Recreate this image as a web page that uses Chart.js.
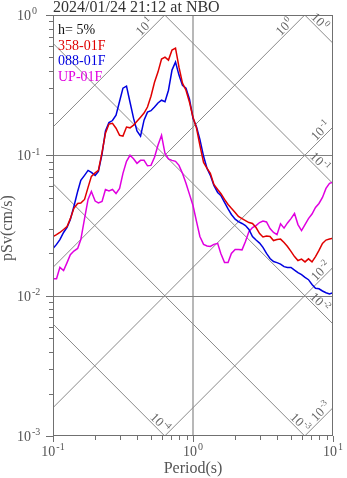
<!DOCTYPE html>
<html>
<head>
<meta charset="utf-8">
<script src="https://cdn.jsdelivr.net/npm/chart.js@4.4.1/dist/chart.umd.min.js"></script>
<style>
  body { margin: 0; background: #fff; }
  #wrap { width: 347px; height: 478px; }
</style>
</head>
<body>
<div id="wrap"><canvas id="psvChart" width="347" height="478"></canvas></div>
<script>
// periods (s), 40 steps per decade / 2
const periods = [
  0.1, 0.106, 0.112, 0.119, 0.126, 0.133, 0.141, 0.15, 0.158, 0.168,
  0.178, 0.188, 0.2, 0.211, 0.224, 0.237, 0.251, 0.266, 0.282, 0.299,
  0.316, 0.335, 0.355, 0.376, 0.398, 0.422, 0.447, 0.473, 0.501, 0.531,
  0.562, 0.596, 0.631, 0.668, 0.708, 0.75, 0.794, 0.841, 0.891, 0.944,
  1.0, 1.06, 1.12, 1.19, 1.26, 1.33, 1.41, 1.5, 1.58, 1.68,
  1.78, 1.88, 2.0, 2.11, 2.24, 2.37, 2.51, 2.66, 2.82, 2.99,
  3.16, 3.35, 3.55, 3.76, 3.98, 4.22, 4.47, 4.73, 5.01, 5.31,
  5.62, 5.96, 6.31, 6.68, 7.08, 7.5, 7.94, 8.41, 8.91, 9.44, 10
];

// pSv (cm/s)
const psv358 = [
  0.0264, 0.0272, 0.0282, 0.0296, 0.0311, 0.0354, 0.0419, 0.0454, 0.0458, 0.0485,
  0.0591, 0.0708, 0.075, 0.0781, 0.105, 0.144, 0.167, 0.169, 0.156, 0.139,
  0.137, 0.159, 0.157, 0.164, 0.175, 0.187, 0.2, 0.221, 0.264, 0.332,
  0.392, 0.485, 0.501, 0.477, 0.562, 0.581, 0.425, 0.327, 0.291, 0.239,
  0.187, 0.156, 0.118, 0.0891, 0.0807, 0.0744, 0.0621, 0.0571, 0.0535, 0.0485,
  0.0446, 0.0419, 0.0392, 0.0367, 0.0354, 0.0343, 0.0332, 0.0327, 0.0306, 0.0277,
  0.0262, 0.0266, 0.0264, 0.0247, 0.0251, 0.0253, 0.0239, 0.0224, 0.0207, 0.019,
  0.0178, 0.0182, 0.0174, 0.0183, 0.0174, 0.019, 0.021, 0.0236, 0.0249, 0.0253, 0.0257
];
const psv088 = [
  0.0217, 0.0232, 0.0251, 0.0282, 0.0306, 0.0349, 0.0432, 0.0553, 0.0663, 0.072,
  0.0781, 0.0756, 0.072, 0.0768, 0.102, 0.149, 0.171, 0.177, 0.193, 0.243,
  0.301, 0.311, 0.239, 0.184, 0.149, 0.137, 0.178, 0.203, 0.208, 0.221,
  0.236, 0.247, 0.241, 0.291, 0.405, 0.462, 0.373, 0.316, 0.301, 0.251,
  0.184, 0.159, 0.13, 0.0984, 0.0807, 0.072, 0.0611, 0.0544, 0.0518, 0.0462,
  0.0415, 0.0379, 0.0351, 0.0337, 0.0327, 0.0316, 0.0296, 0.0264, 0.0249, 0.0237,
  0.0221, 0.02, 0.0184, 0.0175, 0.0172, 0.0168, 0.0161, 0.0159, 0.0159, 0.0152,
  0.0146, 0.0141, 0.0135, 0.013, 0.012, 0.0113, 0.0112, 0.0108, 0.0105, 0.0103, 0.0105
];
const psvUp = [
  0.0132, 0.0132, 0.0159, 0.0151, 0.0172, 0.0196, 0.0208, 0.0217, 0.0251, 0.0354,
  0.0485, 0.0553, 0.0472, 0.0458, 0.0469, 0.0571, 0.0558, 0.0571, 0.0535, 0.0581,
  0.0744, 0.0906, 0.1, 0.0944, 0.0877, 0.0921, 0.0921, 0.0842, 0.0848, 0.0968,
  0.118, 0.139, 0.103, 0.0944, 0.0921, 0.0906, 0.0848, 0.0744, 0.0632, 0.0527,
  0.0439, 0.0337, 0.0264, 0.0232, 0.0226, 0.0224, 0.0232, 0.0236, 0.02, 0.0172,
  0.0172, 0.02, 0.0213, 0.0213, 0.0212, 0.0243, 0.0286, 0.0306, 0.0316, 0.0332,
  0.034, 0.0335, 0.0301, 0.0282, 0.0272, 0.0325, 0.0303, 0.033, 0.0354, 0.0385,
  0.0321, 0.0291, 0.0321, 0.0354, 0.0382, 0.0425, 0.0454, 0.0501, 0.0581, 0.0632, 0.0642
];

const seriesNames = ["358-01F", "088-01F", "UP-01F"];
const seriesColors = ["#e00000", "#0000e0", "#e000e0"];
const titleText = "2024/01/24 21:12 at NBO";
const dampText = "h= 5%";
const xTickExps = [-1, 0, 1];
const yTickExps = [-3, -2, -1, 0];
const accExps = [1, 0, -1, -2, -3];   // cm/s^2 (lines going up-right)
const dispExps = [0, -1, -2, -3, -4]; // cm (lines going down-right)

const serif = "'Liberation Serif', 'Times New Roman', serif";

function drawPow(ctx, exp, x, y, size, align) {
  const supSize = Math.round(size * 0.72);
  ctx.font = size + "px " + serif;
  const w1 = ctx.measureText("10").width;
  ctx.font = supSize + "px " + serif;
  const w2 = ctx.measureText(String(exp)).width;
  const total = w1 + 1 + w2;
  let left = x;
  if (align === "center") left = x - total / 2;
  if (align === "right") left = x - total;
  ctx.textAlign = "left";
  ctx.font = size + "px " + serif;
  ctx.fillText("10", left, y);
  ctx.font = supSize + "px " + serif;
  ctx.fillText(String(exp), left + w1 + 1, y - size * 0.4);
}

const tripartite = {
  id: "tripartite",
  beforeDatasetsDraw(chart) {
    const ctx = chart.ctx;
    const area = chart.chartArea;
    const xs = chart.scales.x, ys = chart.scales.y;
    ctx.save();
    ctx.beginPath();
    ctx.rect(area.left, area.top, area.right - area.left, area.bottom - area.top);
    ctx.clip();

    // grid lines
    ctx.strokeStyle = "#a0a0a0";
    ctx.lineWidth = 1.5;
    ctx.beginPath();
    ctx.moveTo(xs.getPixelForValue(1), area.top);
    ctx.lineTo(xs.getPixelForValue(1), area.bottom);
    ctx.stroke();
    ctx.strokeStyle = "#808080";
    ctx.lineWidth = 1;
    [0.1, 0.01].forEach((v) => {
      const y = Math.round(ys.getPixelForValue(v)) + 0.5;
      ctx.beginPath();
      ctx.moveTo(area.left, y);
      ctx.lineTo(area.right, y);
      ctx.stroke();
    });

    // constant acceleration / displacement lines
    ctx.strokeStyle = "#8a8a8a";
    ctx.lineWidth = 1;
    accExps.forEach((e) => {
      const a = Math.pow(10, e);
      const sv = (t) => (a * t) / (2 * Math.PI);
      ctx.beginPath();
      ctx.moveTo(xs.getPixelForValue(0.1), ys.getPixelForValue(sv(0.1)));
      ctx.lineTo(xs.getPixelForValue(10), ys.getPixelForValue(sv(10)));
      ctx.stroke();
    });
    dispExps.forEach((e) => {
      const d = Math.pow(10, e);
      const sv = (t) => (2 * Math.PI * d) / t;
      ctx.beginPath();
      ctx.moveTo(xs.getPixelForValue(0.1), ys.getPixelForValue(sv(0.1)));
      ctx.lineTo(xs.getPixelForValue(10), ys.getPixelForValue(sv(10)));
      ctx.stroke();
    });
    ctx.restore();
  },
  afterDatasetsDraw(chart) {
    const ctx = chart.ctx;
    const area = chart.chartArea;
    const xs = chart.scales.x, ys = chart.scales.y;
    ctx.save();

    // frame
    ctx.strokeStyle = "#707070";
    ctx.lineWidth = 1;
    ctx.strokeRect(area.left + 0.5, area.top + 0.5, area.right - area.left - 1, area.bottom - area.top - 1);

    // tick marks
    ctx.beginPath();
    for (let k = -1; k <= 1; k++) {
      for (let m = 1; m <= 9; m++) {
        const t = m * Math.pow(10, k);
        if (t > 10.0001) break;
        const x = Math.round(xs.getPixelForValue(t)) + 0.5;
        ctx.moveTo(x, area.bottom);
        ctx.lineTo(x, area.bottom + (m === 1 ? 6 : 4));
      }
    }
    for (let k = -3; k <= 0; k++) {
      for (let m = 1; m <= 9; m++) {
        const v = m * Math.pow(10, k);
        if (v > 1.0001) break;
        const y = Math.round(ys.getPixelForValue(v)) + 0.5;
        ctx.moveTo(area.left, y);
        ctx.lineTo(area.left - (m === 1 ? 7 : 4), y);
      }
    }
    ctx.stroke();

    // tick labels
    ctx.fillStyle = "#555";
    ctx.textBaseline = "alphabetic";
    xTickExps.forEach((e) => {
      drawPow(ctx, e, xs.getPixelForValue(Math.pow(10, e)), area.bottom + 20, 14, "center");
    });
    yTickExps.forEach((e) => {
      drawPow(ctx, e, 17, ys.getPixelForValue(Math.pow(10, e)) + 5, 14, "left");
    });

    // diagonal labels
    ctx.fillStyle = "#666";
    const labelAt = (sv, exitT, back, exp, sizeSign) => {
      const ex = xs.getPixelForValue(exitT);
      const lx = ex - back;
      const lt = xs.getValueForPixel(lx);
      const ly = ys.getPixelForValue(sv(lt));
      const ang = Math.atan2(
        ys.getPixelForValue(sv(10)) - ys.getPixelForValue(sv(0.1)),
        xs.getPixelForValue(10) - xs.getPixelForValue(0.1)
      );
      ctx.save();
      ctx.translate(lx, ly);
      ctx.rotate(ang);
      drawPow(ctx, exp, 0, -2, 13, "center");
      ctx.restore();
    };
    accExps.forEach((e) => {
      const a = Math.pow(10, e);
      const sv = (t) => (a * t) / (2 * Math.PI);
      const topT = (2 * Math.PI) / a;
      const exitT = Math.min(10, topT);
      labelAt(sv, exitT, topT < 10 ? 16 : 8, e);
    });
    dispExps.forEach((e) => {
      const d = Math.pow(10, e);
      const sv = (t) => (2 * Math.PI * d) / t;
      const botT = (2 * Math.PI * d) / 0.001;
      const exitT = Math.min(10, botT);
      labelAt(sv, exitT, botT < 10 ? 9 : 17.5, e);
    });

    // legend text
    ctx.textAlign = "left";
    ctx.font = "14px " + serif;
    ctx.fillStyle = "#111";
    ctx.fillText(dampText, 58, 34);
    seriesNames.forEach((name, i) => {
      ctx.fillStyle = seriesColors[i];
      ctx.fillText(name, 58, 49.5 + i * 15.5);
    });

    // title and axis titles
    ctx.fillStyle = "#333";
    ctx.font = "16px " + serif;
    ctx.fillText(titleText, area.left, 12);
    ctx.fillStyle = "#555";
    ctx.textAlign = "center";
    ctx.fillText("Period(s)", (area.left + area.right) / 2, 473);
    ctx.save();
    ctx.translate(12, 228);
    ctx.rotate(-Math.PI / 2);
    ctx.fillText("pSv(cm/s)", 0, 0);
    ctx.restore();

    ctx.restore();
  },
};

const toPoints = (vals) => periods.map((t, i) => ({ x: t, y: vals[i] }));

const ctx = document.getElementById("psvChart").getContext("2d");
const psvChart = new Chart(ctx, {
  type: "line",
  data: {
    datasets: [
      { label: seriesNames[0], data: toPoints(psv358), borderColor: seriesColors[0] },
      { label: seriesNames[1], data: toPoints(psv088), borderColor: seriesColors[1] },
      { label: seriesNames[2], data: toPoints(psvUp), borderColor: seriesColors[2] },
    ],
  },
  options: {
    responsive: false,
    animation: false,
    devicePixelRatio: 1,
    layout: { padding: { left: 53, top: 15, right: 14, bottom: 42 } },
    elements: {
      point: { radius: 0 },
      line: { borderWidth: 1.5, tension: 0, fill: false },
    },
    plugins: {
      legend: { display: false },
      tooltip: { enabled: false },
    },
    scales: {
      x: {
        type: "logarithmic",
        min: 0.1,
        max: 10,
        ticks: { display: false },
        grid: { display: false, drawTicks: false },
        border: { display: false },
        afterFit: (s) => { s.height = 0; },
      },
      y: {
        type: "logarithmic",
        min: 0.001,
        max: 1,
        ticks: { display: false },
        grid: { display: false, drawTicks: false },
        border: { display: false },
        afterFit: (s) => { s.width = 0; },
      },
    },
  },
  plugins: [tripartite],
});
</script>
</body>
</html>
